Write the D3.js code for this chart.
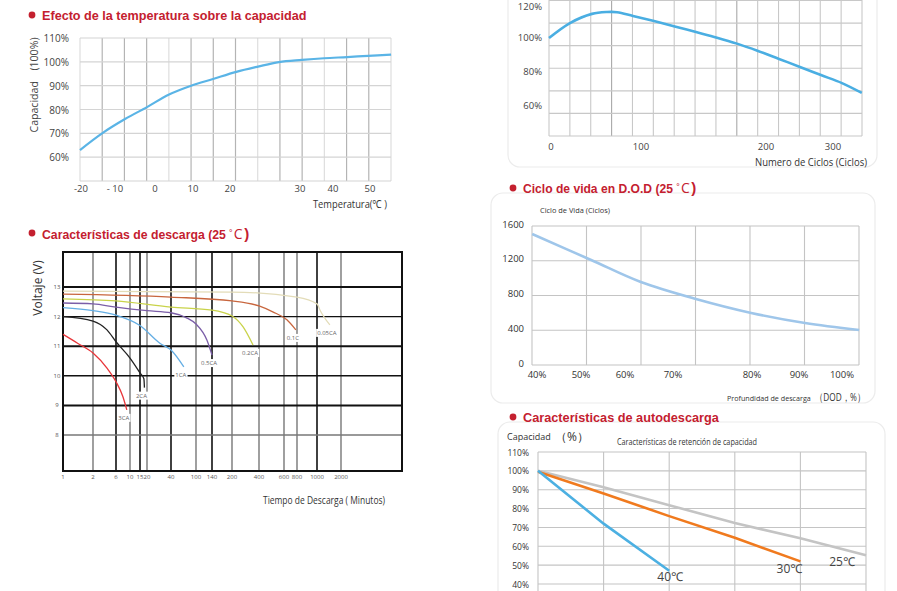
<!DOCTYPE html>
<html><head><meta charset="utf-8">
<script src="https://cdn.jsdelivr.net/npm/d3@7"></script>
<style>
body{margin:0;background:#fff;}
svg{display:block;}
</style></head><body>
<svg id="c" width="897" height="591"></svg>
<script>
// ================= DATA =================
// Panel 1: temperature effect on capacity
const tempTicks = [-20, -10, 0, 10, 20, 30, 40, 50];
const tempTickLabels = ['-20', '- 10', '0', '10', '20', '30', '40', '50'];
const capTicks = [60, 70, 80, 90, 100, 110];
const tempC = [-20.3, -13.8, -7.5, -2, 3.7, 9.5, 15.4, 20.9, 24, 27, 30.6, 37.3, 43.8, 49.5, 55.7];
const tempCap = [63, 70, 76, 81, 86.3, 90, 92.8, 95.8, 98, 99.9, 100.8, 101.5, 102, 102.5, 103];

// Panel 2: discharge characteristics (minutes, volts)
const dischargeTicks = [1, 2, 6, 10, 15, 20, 40, 100, 140, 200, 400, 600, 800, 1000, 2000];
const voltTicks = [13, 12, 11, 10, 9, 8];
const d3CA = [[1, 11.4], [1.4, 11.1], [2, 10.77], [3.9, 10.26], [6, 9.8], [7.7, 9.3], [8.9, 8.85]];
const d2CA = [[1, 12.0], [2, 11.85], [3.9, 11.55], [6, 11.15], [10, 10.6], [15, 10.1], [17.6, 9.9], [18, 9.6]];
const d1CA = [[1, 12.3], [2, 12.2], [6, 12.05], [15, 11.7], [29, 11.1], [40, 10.87], [64, 10.3]];
const d05CA = [[1, 12.46], [2, 12.43], [6, 12.32], [20, 12.2], [40, 12.13], [72, 11.95], [100, 11.75], [126, 11.2], [140, 10.7]];
const d02CA = [[1, 12.6], [6, 12.53], [40, 12.32], [140, 12.22], [200, 12.02], [266, 11.65], [343, 11.04]];
const d01C = [[1, 12.76], [40, 12.66], [200, 12.53], [400, 12.36], [500, 12.16], [640, 11.89], [780, 11.55]];
const d005CA = [[1, 12.86], [200, 12.83], [800, 12.66], [1000, 12.43], [1100, 12.2], [1450, 11.72]];
const dischargeNames = ['3CA', '2CA', '1CA', '0.5CA', '0.2CA', '0.1C', '0.05CA'];
const dischargeData = [d3CA, d2CA, d1CA, d05CA, d02CA, d01C, d005CA];

// Panel 3: capacity vs number of cycles
const cycleTicks = [0, 100, 200, 300];
const cyclePctTicks = [60, 80, 100, 120];
const cycleN = [0, 22.8, 46.7, 63, 74, 91.3, 110.4, 127, 144, 160.8, 176.8, 193.6, 219.4, 250.7, 282, 313.4, 343];
const cycleCap = [99.4, 108.2, 113.6, 114.7, 114.6, 112.4, 109.4, 106.2, 102.9, 99.6, 96.1, 91.8, 87.1, 82.4, 77.6, 72.9, 67.1];

// Panel 4: cycle life vs DOD
const dodTicks = [40, 50, 60, 70, 80, 90, 100];
const lifeTicks = [0, 400, 800, 1200, 1600];
const dodPct = [38.9, 52.3, 63.3, 72.9, 79.9, 91.4, 104];
const dodLife = [1508, 1209, 955, 760, 599, 483, 403];

// Panel 5: self-discharge (capacity retention)
const retTicks = [40, 50, 60, 70, 80, 90, 100, 110];
const ret40 = [100, 72, 47];
const ret30 = [99.5, 88, 76, 64.5, 52];
const ret25 = [100, 91.3, 81.8, 72.3, 64.3, 55.3];
const retNames = ['40℃', '30℃', '25℃'];

// ================= DRAWING =================
const svg = d3.select('#c');
const RED = '#c4202f';
const TF = '"Open Sans","Noto Sans",sans-serif';
const NARROW = '"Liberation Sans Narrow","Liberation Sans",sans-serif';

function fitText(sel, width, base) {
  const w = sel.node().getComputedTextLength();
  sel.attr('font-size', base * width / w);
  return sel;
}
function title(bx, by, x, base, width, main, suffix) {
  svg.append('circle').attr('cx', bx).attr('cy', by).attr('r', 3.4).attr('fill', RED);
  const m = svg.append('text').attr('x', x).attr('y', base)
    .attr('font-family', NARROW).attr('font-weight', 'bold').attr('font-size', 15).attr('fill', RED).text(main);
  fitText(m, width, 15);
  if (suffix) {
    let cx = x + m.node().getComputedTextLength() + 3.5;
    const deg = svg.append('text').attr('x', cx).attr('y', base - 4).text('º')
      .attr('font-family', TF).attr('font-size', 8).attr('fill', RED);
    cx += deg.node().getComputedTextLength() + 1.5;
    const c = svg.append('text').attr('x', cx).attr('y', base).text('C')
      .attr('font-family', TF).attr('font-size', 14).attr('fill', RED);
    cx += c.node().getComputedTextLength() + 1.5;
    svg.append('text').attr('x', cx).attr('y', base).text(')')
      .attr('font-family', NARROW).attr('font-weight', 'bold').attr('font-size', 15).attr('fill', RED);
  }
}
function label(g, x, y, s, o = {}) {
  return g.append('text').attr('x', x).attr('y', y).text(s)
    .attr('font-family', o.f || TF).attr('font-size', o.size || 10)
    .attr('fill', o.fill || '#444').attr('text-anchor', o.anchor || 'start')
    .attr('dominant-baseline', o.db || 'auto');
}

// ---------- Panel 1 ----------
{
  const g = svg.append('g');
  title(32, 15, 42, 19.5, 265, 'Efecto de la temperatura sobre la capacidad');
  const L = 80, R = 391;
  const x = d3.scaleLinear().domain(tempTicks).range([81, 115, 155, 193, 230, 300, 333, 370]);
  const y = d3.scaleLinear().domain([50, 110]).range([181, 38]);
  const gx = d3.scaleLinear().domain([0, 14]).range([L, R]);
  const lightCols = new Set([0, 4, 8, 11, 14]);
  d3.range(15).forEach(i => {
    g.append('line').attr('x1', gx(i)).attr('x2', gx(i)).attr('y1', y(110)).attr('y2', y(50))
      .attr('stroke', lightCols.has(i) ? '#dedede' : '#b4b4b4').attr('stroke-width', 1.2);
  });
  capTicks.concat([50]).forEach(v => {
    g.append('line').attr('x1', L).attr('x2', R).attr('y1', y(v)).attr('y2', y(v))
      .attr('stroke', '#d4d4d4').attr('stroke-width', 1.2);
  });
  capTicks.forEach(v => label(g, 69, y(v), v + '%', {anchor: 'end', db: 'central', size: 10}));
  tempTicks.forEach((v, i) => label(g, x(v), 188, tempTickLabels[i], {anchor: 'middle', db: 'central', size: 9.5}));
  const line = d3.line().x(d => x(d[0])).y(d => y(d[1])).curve(d3.curveCatmullRom.alpha(0.5));
  g.append('path').datum(tempC.map((t, i) => [t, tempCap[i]])).attr('d', line)
    .attr('fill', 'none').attr('stroke', '#5ab4e6').attr('stroke-width', 2.2);
  label(g, 0, 0, 'Capacidad　(100%)', {anchor: 'middle', size: 11})
    .attr('transform', 'translate(38,85) rotate(-90)').attr('textLength', 95).attr('lengthAdjust', 'spacingAndGlyphs');
  label(g, 387, 208, 'Temperatura(℃ )', {anchor: 'end', size: 11, fill: '#333'})
    .attr('textLength', 74).attr('lengthAdjust', 'spacingAndGlyphs');
}

// ---------- Panel 2 ----------
{
  const g = svg.append('g');
  title(32, 233, 42, 238.5, 184, 'Características de descarga (25', true);
  const L = 63, R = 402, T = 252, B = 471;
  const x = d3.scaleLog().domain(dischargeTicks).range([63, 93, 116, 130, 140, 147, 171, 196, 212, 232, 259, 284, 297, 317, 341]);
  const y = d3.scaleLinear().domain([13, 8]).range([287, 435]);
  const heavyX = new Set([6, 15, 40, 140, 1000]);
  dischargeTicks.slice(1).forEach(v => {
    g.append('line').attr('x1', x(v)).attr('x2', x(v)).attr('y1', T).attr('y2', B)
      .attr('stroke', heavyX.has(v) ? '#111' : '#777').attr('stroke-width', heavyX.has(v) ? 1.6 : 1.4);
  });
  const hw = {13: 2, 12: 1.4, 11: 2, 10: 1.4, 9: 2, 8: 1.3};
  voltTicks.forEach(v => {
    g.append('line').attr('x1', L).attr('x2', R).attr('y1', y(v)).attr('y2', y(v))
      .attr('stroke', v === 8 ? '#777' : '#111').attr('stroke-width', hw[v]);
  });
  g.append('rect').attr('x', L).attr('y', T).attr('width', R - L).attr('height', B - T)
    .attr('fill', 'none').attr('stroke', '#111').attr('stroke-width', 2);
  voltTicks.forEach(v => label(g, 57, y(v), String(v), {anchor: 'middle', db: 'central', size: 6, fill: '#555'}));
  dischargeTicks.forEach(v => label(g, x(v), 477, String(v), {anchor: 'middle', db: 'central', size: 6, fill: '#555'}));
  const colors = ['#e8363a', '#222222', '#64aee4', '#7b5ea8', '#c9d34a', '#c8663e', '#e3dcb8'];
  const line = d3.line().x(d => x(d[0])).y(d => y(d[1])).curve(d3.curveMonotoneX);
  dischargeData.forEach((d, i) => {
    g.append('path').datum(d).attr('d', line).attr('fill', 'none')
      .attr('stroke', colors[i]).attr('stroke-width', 1.3);
  });
  dischargeData.forEach((d, i) => {
    const e = d[d.length - 1];
    const cx = x(e[0]) - 3, cy = y(e[1]) + 8;
    const t = label(g, cx, cy, dischargeNames[i], {anchor: 'middle', db: 'central', size: 6, fill: '#666'});
    const bb = t.node().getBBox();
    g.insert('rect', function () { return t.node(); }).attr('x', bb.x - 1).attr('y', bb.y)
      .attr('width', bb.width + 2).attr('height', bb.height).attr('fill', '#fff');
  });
  label(g, 0, 0, 'Voltaje  (V)', {anchor: 'middle', size: 12, fill: '#333'})
    .attr('transform', 'translate(42,288) rotate(-90)');
  label(g, 385, 504, 'Tiempo de Descarga ( Minutos)', {anchor: 'end', size: 11, fill: '#333'})
    .attr('textLength', 122).attr('lengthAdjust', 'spacingAndGlyphs');
}

// ---------- Panel 3 ----------
{
  const g = svg.append('g');
  g.append('rect').attr('x', 508).attr('y', -20).attr('width', 369).attr('height', 187).attr('rx', 12)
    .attr('fill', 'none').attr('stroke', '#ececec').attr('stroke-width', 1.2);
  const L = 549, R = 862, B = 136;
  const x = d3.scaleLinear().domain(cycleTicks).range([549, 641, 766, 833]);
  const y = d3.scaleLinear().domain([60, 120]).range([105, 3]);
  const gx = d3.scaleLinear().domain([0, 15]).range([L, R]);
  const gy = d3.scaleLinear().domain([0, 6]).range([B, 0.5]);
  d3.range(16).forEach(i => {
    g.append('line').attr('x1', gx(i)).attr('x2', gx(i)).attr('y1', 0).attr('y2', B)
      .attr('stroke', (i === 3 || i === 9) ? '#a8a8a8' : '#c8c8c8').attr('stroke-width', 1.1);
  });
  d3.range(7).forEach(i => {
    g.append('line').attr('x1', L).attr('x2', R).attr('y1', gy(i)).attr('y2', gy(i))
      .attr('stroke', '#c8c8c8').attr('stroke-width', 1.1);
  });
  cyclePctTicks.forEach(v => label(g, 542, y(v) + (v === 120 ? 3.5 : 0), v + '%', {anchor: 'end', db: 'central', size: 9.5}));
  cycleTicks.forEach(v => label(g, x(v) + (v === 0 ? 2 : 0), 146, String(v), {anchor: 'middle', db: 'central', size: 9.5}));
  const line = d3.line().x(d => x(d[0])).y(d => y(d[1])).curve(d3.curveCatmullRom.alpha(0.5));
  g.append('path').datum(cycleN.map((c, i) => [c, cycleCap[i]])).attr('d', line)
    .attr('fill', 'none').attr('stroke', '#4aaee2').attr('stroke-width', 2.6);
  label(g, 867, 166, 'Numero de Ciclos (Ciclos)', {anchor: 'end', size: 11, fill: '#333'})
    .attr('textLength', 112).attr('lengthAdjust', 'spacingAndGlyphs');
}

// ---------- Panel 4 ----------
{
  const g = svg.append('g');
  g.append('rect').attr('x', 491).attr('y', 193).attr('width', 384).attr('height', 210).attr('rx', 12)
    .attr('fill', 'none').attr('stroke', '#ececec').attr('stroke-width', 1.2);
  title(513, 188, 523, 192.5, 150, 'Ciclo de vida en D.O.D (25', true);
  const L = 532, R = 859;
  const x = d3.scaleLinear().domain(dodTicks).range([537, 581, 625, 673, 752, 799, 842]);
  const y = d3.scaleLinear().domain([0, 1600]).range([365, 226]);
  const gx = d3.scaleLinear().domain([0, 6]).range([L, R]);
  d3.range(7).forEach(i => {
    g.append('line').attr('x1', gx(i)).attr('x2', gx(i)).attr('y1', y(1600)).attr('y2', y(0))
      .attr('stroke', '#c4c4c4').attr('stroke-width', 1.1);
  });
  lifeTicks.forEach(v => {
    g.append('line').attr('x1', L).attr('x2', R).attr('y1', y(v)).attr('y2', y(v))
      .attr('stroke', '#c4c4c4').attr('stroke-width', 1.1);
  });
  lifeTicks.forEach(v => label(g, 524, y(v) - 2, String(v), {anchor: 'end', db: 'central', size: 9.5, fill: '#333'}));
  dodTicks.forEach(v => label(g, x(v), 374, v + '%', {anchor: 'middle', db: 'central', size: 9.5, fill: '#333'}));
  const line = d3.line().x(d => x(d[0])).y(d => y(d[1])).curve(d3.curveCatmullRom.alpha(0.5));
  g.append('path').datum(dodPct.map((p, i) => [p, dodLife[i]])).attr('d', line)
    .attr('fill', 'none').attr('stroke', '#9fc6ea').attr('stroke-width', 2.6);
  label(g, 540, 213, 'Ciclo de Vida (Ciclos)', {size: 8, fill: '#333'})
    .attr('textLength', 70).attr('lengthAdjust', 'spacingAndGlyphs');
  const t1 = label(g, 727, 401, 'Profundidad de descarga', {size: 8, fill: '#333'});
  fitText(t1, 84, 8);
  label(g, 815, 401, '（DOD，%）', {size: 11, fill: '#333'})
    .attr('textLength', 50).attr('lengthAdjust', 'spacingAndGlyphs');
}

// ---------- Panel 5 ----------
{
  const g = svg.append('g');
  g.append('rect').attr('x', 498).attr('y', 422).attr('width', 387).attr('height', 200).attr('rx', 12)
    .attr('fill', 'none').attr('stroke', '#ececec').attr('stroke-width', 1.2);
  title(513, 417, 523, 421.5, 196, 'Características de autodescarga');
  const L = 538, R = 866;
  const x = d3.scaleLinear().domain([0, 5]).range([L, R]);
  const y = d3.scaleLinear().domain([40, 110]).range([584, 452]);
  d3.range(6).forEach(i => {
    g.append('line').attr('x1', x(i)).attr('x2', x(i)).attr('y1', y(110)).attr('y2', 591)
      .attr('stroke', '#c4c4c4').attr('stroke-width', 1.1);
  });
  retTicks.forEach(v => {
    g.append('line').attr('x1', L).attr('x2', R).attr('y1', y(v)).attr('y2', y(v))
      .attr('stroke', '#c4c4c4').attr('stroke-width', 1.1);
  });
  retTicks.forEach(v => label(g, 529, y(v), v + '%', {anchor: 'end', db: 'central', size: 8.5, fill: '#333'}));
  const line = d3.line().x((d, i) => x(i)).y(d => y(d));
  const series = [ret25, ret30, ret40];
  const cols = ['#c4c4c4', '#f07a1e', '#4cb0e2'];
  series.forEach((s, i) => g.append('path').datum(s).attr('d', line).attr('fill', 'none')
    .attr('stroke', cols[i]).attr('stroke-width', 2.6));
  const lblOff = [[-24, 11], [-11, 12], [1, 10]];
  series.forEach((s, i) => {
    const n = s.length - 1;
    label(g, x(n) + lblOff[i][0], y(s[n]) + lblOff[i][1], retNames[2 - i], {anchor: 'middle', size: 12, fill: '#444'});
  });
  label(g, 507, 440, 'Capacidad', {size: 9, fill: '#333'});
  label(g, 555, 441, '（%）', {size: 12, fill: '#333'});
  label(g, 617, 445, 'Características de retención de capacidad', {size: 8.5, fill: '#333'})
    .attr('textLength', 140).attr('lengthAdjust', 'spacingAndGlyphs');
}
</script>
</body></html>
